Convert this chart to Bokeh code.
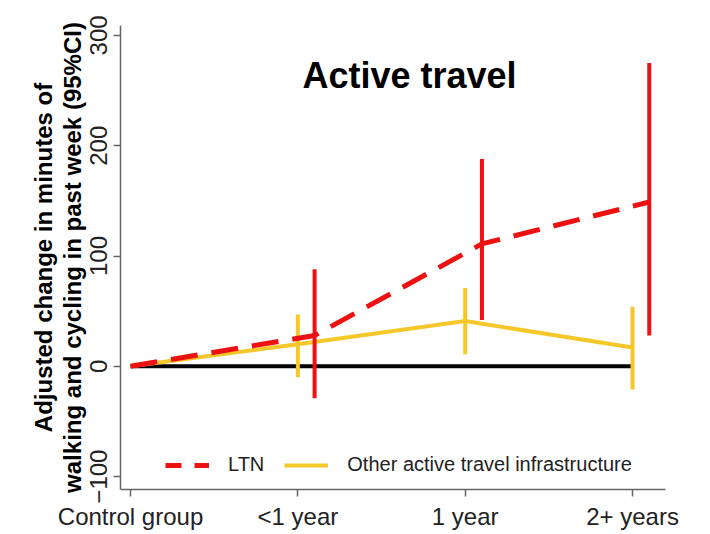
from bokeh.plotting import figure
from bokeh.models import Range1d, FixedTicker, Legend, LegendItem, Label, ColumnDataSource
from bokeh.embed import file_html
from bokeh.resources import INLINE

# ---- data ----
categories = ["Control group", "<1 year", "1 year", "2+ years"]
x_pos = [0, 1, 2, 3]
ltn_offset = 0.1

ltn_est = [0, 28, 111, 149]
ltn_lower = [-29, 42, 28]     # for <1 year, 1 year, 2+ years
ltn_upper = [88, 188, 275]

other_est = [0, 20, 41, 17]
other_lower = [-10, 11, -21]
other_upper = [47, 71, 54]

y_ticks = [-100, 0, 100, 200, 300]

RED = "#ee1111"
YEL = "#f4c82a"
FONT = "Liberation Sans"

p = figure(width=706, height=532, output_backend="svg", toolbar_location=None,
           x_range=Range1d(-0.06, 3.197), y_range=Range1d(-111.7, 309),
           min_border_left=120, min_border_right=41, min_border_top=25, min_border_bottom=40)
p.grid.visible = False
p.outline_line_color = None

ltn_x = [x + (ltn_offset if i > 0 else 0) for i, x in enumerate(x_pos)]

# zero reference line
p.line([x_pos[0], x_pos[-1]], [0, 0], line_color="black", line_width=4)

# other infrastructure
p.line(x_pos, other_est, line_color=YEL, line_width=4)
p.segment(x0=x_pos[1:], y0=other_lower, x1=x_pos[1:], y1=other_upper, line_color=YEL, line_width=4)

# LTN
p.line(ltn_x, ltn_est, line_color=RED, line_width=5, line_dash="27 14")
p.segment(x0=ltn_x[1:], y0=ltn_lower, x1=ltn_x[1:], y1=ltn_upper, line_color=RED, line_width=4)

# legend proxies
nan = float("nan")
proxy = ColumnDataSource(data=dict(x=[nan, nan], y=[nan, nan]))
r_l = p.line("x", "y", source=proxy, line_color=RED, line_width=5, line_dash="16 13")
r_o = p.line("x", "y", source=proxy, line_color=YEL, line_width=4)
legend = Legend(items=[LegendItem(label="LTN", renderers=[r_l], index=0),
                       LegendItem(label="Other active travel infrastructure", renderers=[r_o], index=0)],
                orientation="horizontal", location=(45, 13), border_line_color=None,
                background_fill_alpha=0, glyph_width=44, glyph_height=20, label_standoff=19,
                spacing=20, padding=2, margin=0,
                label_text_font=FONT, label_text_font_size="20px", label_text_color="#222222")
p.add_layout(legend)

# title inside plot
p.add_layout(Label(x=1.667, y=264, text="Active travel", text_align="center", text_baseline="middle",
                   text_font=FONT, text_font_style="bold", text_font_size="36px", text_color="black"))

# axes
p.xaxis.ticker = FixedTicker(ticks=x_pos)
p.xaxis.major_label_overrides = {x: c for x, c in zip(x_pos, categories)}
p.yaxis.ticker = FixedTicker(ticks=y_ticks)
for ax in (p.xaxis, p.yaxis):
    ax.axis_line_color = "#666666"
    ax.axis_line_width = 1.5
    ax.major_tick_line_color = "#666666"
    ax.major_tick_line_width = 1.5
    ax.major_tick_out = 7
    ax.major_tick_in = 0
    ax.minor_tick_line_color = None
    ax.major_label_text_font = FONT
    ax.major_label_text_font_size = "24px"
    ax.major_label_text_color = "#222222"
p.yaxis.major_label_orientation = "vertical"
p.xaxis.major_label_standoff = 6
p.yaxis.major_label_standoff = 6
p.yaxis.axis_label = "Adjusted change in minutes of\nwalking and cycling in past week (95%CI)"
p.yaxis.axis_label_text_font = FONT
p.yaxis.axis_label_text_font_style = "bold"
p.yaxis.axis_label_text_font_size = "24px"
p.yaxis.axis_label_text_line_height = 1.05
p.yaxis.axis_label_text_color = "black"
p.yaxis.axis_label_standoff = 2

open("out.html", "w").write(file_html(p, INLINE))
